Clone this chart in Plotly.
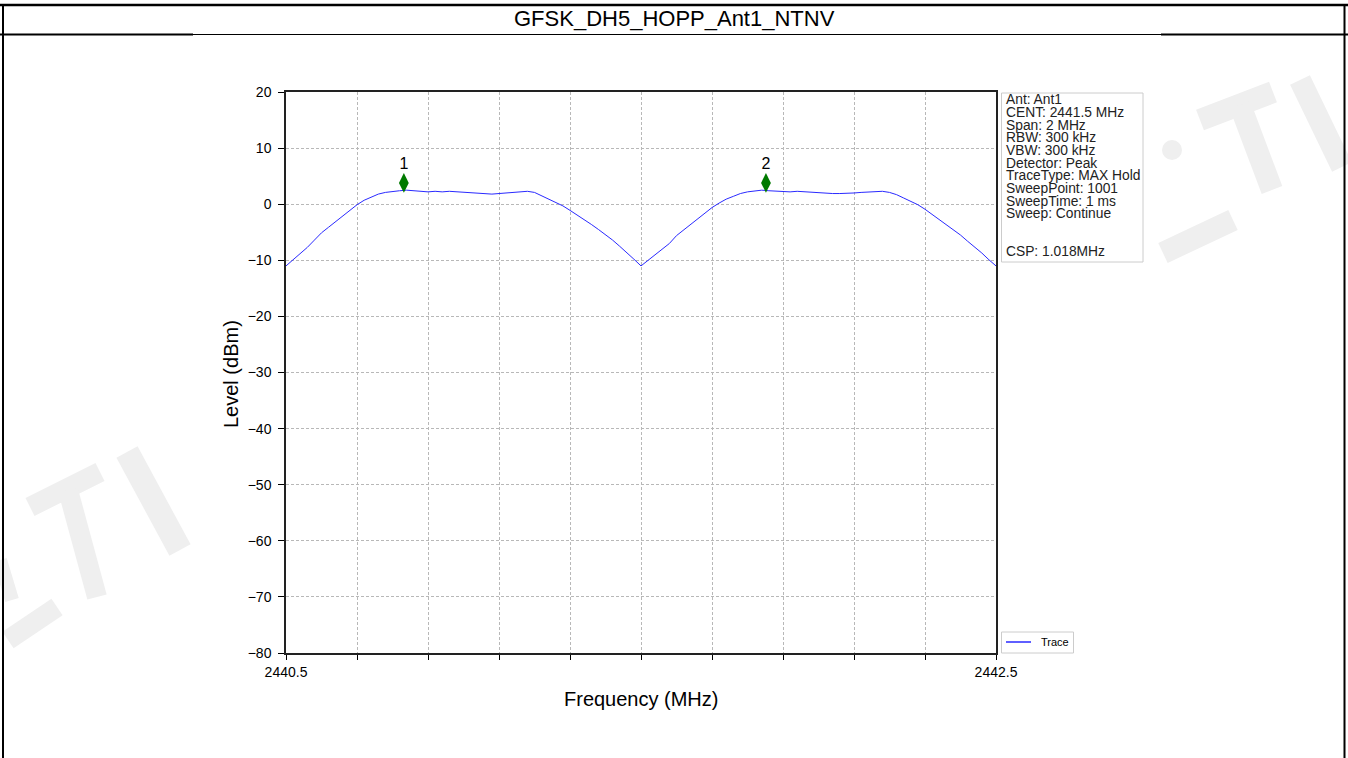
import plotly.graph_objects as go

# ---------------- data ----------------
title_text = "GFSK_DH5_HOPP_Ant1_NTNV"
freq_start = 2440.5
freq_step = 0.02
levels = [
    # first hop channel 2440.50 .. 2441.50
    -11.0, -9.9, -8.8, -7.7, -6.4, -5.1, -4.1, -3.1, -2.1, -1.0,
    -0.1, 0.7, 1.3, 1.8, 2.1, 2.3, 2.4, 2.5, 2.4, 2.3,
    2.2, 2.3, 2.2, 2.3, 2.2, 2.1, 2.0, 1.9, 1.9, 1.8,
    1.9, 2.0, 2.2, 2.3, 2.3, 2.1, 1.5, 1.0, 0.4, -0.3,
    -1.1, -1.9, -2.8, -3.6, -4.5, -5.4, -6.4, -7.5, -8.6, -9.8,
    -11.0,
    # second hop channel 2441.52 .. 2442.50
    -10.0, -9.0, -8.0, -7.0, -5.6, -4.6, -3.6, -2.6, -1.7, -0.6,
    0.2, 0.9, 1.4, 1.9, 2.2, 2.4, 2.5, 2.4, 2.3, 2.3,
    2.2, 2.3, 2.2, 2.2, 2.1, 2.0, 1.9, 1.9, 1.9, 2.0,
    2.1, 2.2, 2.3, 2.3, 2.1, 1.7, 1.1, 0.5, -0.1, -0.9,
    -1.8, -2.7, -3.6, -4.5, -5.5, -6.6, -7.6, -8.7, -9.9, -11.0,
]
freqs = [round(freq_start + freq_step * i, 4) for i in range(len(levels))]

marker_freqs = [2440.832, 2441.852]
marker_levels = [3.8, 3.8]
marker_labels = ["1", "2"]

x_tickvals = [2440.5, 2440.7, 2440.9, 2441.1, 2441.3, 2441.5, 2441.7, 2441.9, 2442.1, 2442.3, 2442.5]
x_ticktext = ["2440.5", "", "", "", "", "", "", "", "", "", "2442.5"]
y_tickvals = [20, 10, 0, -10, -20, -30, -40, -50, -60, -70, -80]

legend_label = "Trace"
info_lines = [
    "Ant: Ant1",
    "CENT: 2441.5 MHz",
    "Span: 2 MHz",
    "RBW: 300 kHz",
    "VBW: 300 kHz",
    "Detector: Peak",
    "TraceType: MAX Hold",
    "SweepPoint: 1001",
    "SweepTime: 1 ms",
    "Sweep: Continue",
    "",
    "",
    "CSP: 1.018MHz",
]

# ---------------- layout helpers ----------------
W, H = 1348, 758
FONT = "Arial, Liberation Sans, sans-serif"


def px(x):
    return x / W


def py(y):
    return 1 - y / H


plot_l, plot_r, plot_t, plot_b = 286, 996, 92, 653
TRACE_COLOR = "#2a2aff"

fig = go.Figure()
fig.add_trace(go.Scatter(
    x=freqs, y=levels, mode="lines", name=legend_label,
    line=dict(color=TRACE_COLOR, width=1), showlegend=False,
))
fig.add_trace(go.Scatter(
    x=marker_freqs, y=marker_levels, mode="markers+text",
    text=marker_labels, textposition="top center",
    textfont=dict(family=FONT, size=16, color="black"),
    marker=dict(symbol="diamond-tall", size=14, color="#007a00"),
    showlegend=False,
))

shapes = []
# faint watermark strokes in the margins
WM = "#efefef"
wm_strokes = [
    (30, 507, 100, 472, 20), (68, 490, 97, 597, 20), (127, 452, 180, 550, 24),
    (8, 640, 57, 607, 20), (0, 560, 12, 600, 14),
    (1200, 120, 1273, 92, 22), (1240, 105, 1272, 190, 22), (1163, 253, 1233, 220, 22),
    (1300, 80, 1342, 167, 22),
]
for x0, y0, x1, y1, w in wm_strokes:
    shapes.append(dict(type="line", xref="paper", yref="paper", layer="below",
                       x0=px(x0), y0=py(y0), x1=px(x1), y1=py(y1),
                       line=dict(color=WM, width=w)))
shapes.append(dict(type="circle", xref="paper", yref="paper", layer="below",
                   x0=px(1162), x1=px(1182), y0=py(140), y1=py(160),
                   line=dict(width=0), fillcolor=WM))
# outer frame lines
shapes.append(dict(type="line", xref="paper", yref="paper", x0=px(0), x1=px(W), y0=py(5), y1=py(5),
                   line=dict(color="black", width=2.5)))
shapes.append(dict(type="line", xref="paper", yref="paper", x0=px(3), x1=px(3), y0=py(5), y1=py(H),
                   line=dict(color="black", width=2)))
shapes.append(dict(type="line", xref="paper", yref="paper", x0=px(1344.5), x1=px(1344.5), y0=py(5), y1=py(H),
                   line=dict(color="black", width=2)))
shapes.append(dict(type="line", xref="paper", yref="paper", x0=px(0), x1=px(W), y0=py(34.5), y1=py(34.5),
                   line=dict(color="black", width=1)))
shapes.append(dict(type="line", xref="paper", yref="paper", x0=px(0), x1=px(193), y0=py(34.5), y1=py(34.5),
                   line=dict(color="black", width=2)))
shapes.append(dict(type="line", xref="paper", yref="paper", x0=px(1161), x1=px(W), y0=py(34.5), y1=py(34.5),
                   line=dict(color="black", width=2)))
# info box
shapes.append(dict(type="rect", xref="paper", yref="paper", x0=px(1001.5), x1=px(1143), y0=py(93), y1=py(262),
                   line=dict(color="#cccccc", width=1), fillcolor="white"))
# legend box and sample line
shapes.append(dict(type="rect", xref="paper", yref="paper", x0=px(1001.5), x1=px(1073.5), y0=py(632), y1=py(653),
                   line=dict(color="#cccccc", width=1), fillcolor="white"))
shapes.append(dict(type="line", xref="paper", yref="paper", x0=px(1006), x1=px(1031), y0=py(642), y1=py(642),
                   line=dict(color=TRACE_COLOR, width=1.5)))

annotations = []
annotations.append(dict(text=title_text, xref="paper", yref="paper", x=px(674), y=py(19),
                        xanchor="center", yanchor="middle", showarrow=False,
                        font=dict(family=FONT, size=22, color="black")))
annotations.append(dict(text="Level (dBm)", xref="paper", yref="paper", x=px(231), y=py(374),
                        xanchor="center", yanchor="middle", showarrow=False, textangle=-90,
                        font=dict(family=FONT, size=20, color="black")))
annotations.append(dict(text="Frequency (MHz)", xref="paper", yref="paper", x=px(641), y=py(699),
                        xanchor="center", yanchor="middle", showarrow=False,
                        font=dict(family=FONT, size=20, color="black")))
annotations.append(dict(text=legend_label, xref="paper", yref="paper", x=px(1039), y=py(642),
                        xanchor="left", yanchor="middle", showarrow=False,
                        font=dict(family=FONT, size=11, color="black")))
for i, line in enumerate(info_lines):
    if not line:
        continue
    annotations.append(dict(text=line, xref="paper", yref="paper", x=px(1004), y=py(100 + i * 12.64),
                            xanchor="left", yanchor="middle", showarrow=False,
                            font=dict(family=FONT, size=13.8, color="#222222")))

grid_kw = dict(showgrid=True, gridcolor="#b8b8b8", griddash="3px,2px", gridwidth=0.8)
fig.update_layout(
    width=W, height=H, autosize=False,
    margin=dict(l=0, r=0, t=0, b=0, pad=0, autoexpand=False),
    paper_bgcolor="white", plot_bgcolor="white",
    shapes=shapes, annotations=annotations,
    showlegend=False,
    xaxis=dict(
        domain=[px(plot_l), px(plot_r)],
        range=[2440.5, 2442.5], automargin=False,
        tickmode="array", tickvals=x_tickvals, ticktext=x_ticktext,
        ticks="outside", ticklen=5, tickcolor="black", tickwidth=1,
        tickfont=dict(family=FONT, size=14, color="black"),
        showline=True, linecolor="#222222", linewidth=1.5, mirror=True,
        zeroline=False, **grid_kw,
    ),
    yaxis=dict(
        domain=[py(plot_b), py(plot_t)],
        range=[-80, 20], automargin=False,
        tickmode="array", tickvals=y_tickvals,
        ticks="outside", ticklen=6, tickcolor="black", tickwidth=1,
        ticklabelstandoff=4,
        tickfont=dict(family=FONT, size=14, color="black"),
        showline=True, linecolor="#222222", linewidth=1.5, mirror=True,
        zeroline=False, **grid_kw,
    ),
)

fig.write_html("out.html", config={"displayModeBar": False},
               post_script="document.body.style.margin='0';document.body.style.overflow='hidden';")
